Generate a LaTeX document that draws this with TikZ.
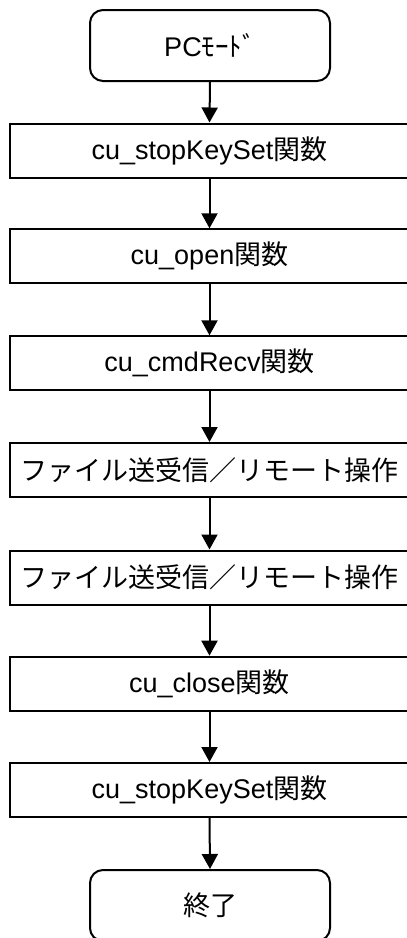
\documentclass[tikz,border=0pt]{standalone}
\usepackage{fontspec}
\setmainfont{Liberation Sans}
\newfontfamily\cjk{Noto Sans CJK JP}
\usetikzlibrary{arrows.meta}
\tikzset{
  procbox/.style={draw=black, line width=2pt, rectangle, minimum width=399pt, minimum height=54pt, inner sep=0pt, font=\fontsize{27}{32}\selectfont},
  termbox/.style={draw=black, line width=2pt, rectangle, rounded corners=13pt, minimum width=240pt, minimum height=71pt, inner sep=0pt, font=\fontsize{27}{32}\selectfont},
  flow/.style={line width=2pt, -{Triangle[width=16pt,length=15pt]}}
}
\begin{document}
\begin{tikzpicture}[x=1pt,y=-1pt]
\clip (0,0) rectangle (407,938);
\fill[white] (0,0) rectangle (407,938);
\node[termbox] (start) at (210,45.5) {PC{\cjk ﾓｰﾄﾞ}};
\node[procbox] (b1) at (209.5,150.5) {cu\_stopKeySet{\cjk 関数}};
\node[procbox] (b2) at (209.5,256.3) {cu\_open{\cjk 関数}};
\node[procbox] (b3) at (209.5,363.3) {cu\_cmdRecv{\cjk 関数}};
\node[procbox] (b4) at (209.5,470) {\cjk ファイル送受信／リモート操作};
\node[procbox] (b5) at (209.5,577.5) {\cjk ファイル送受信／リモート操作};
\node[procbox] (b6) at (209.5,683.7) {cu\_close{\cjk 関数}};
\node[procbox] (b7) at (209.5,790) {cu\_stopKeySet{\cjk 関数}};
\node[termbox] (end) at (210,905.5) {\cjk 終了};
\draw[flow] (start.south) -- (b1.north);
\draw[flow] (b1) -- (b2);
\draw[flow] (b2) -- (b3);
\draw[flow] (b3) -- (b4);
\draw[flow] (b4) -- (b5);
\draw[flow] (b5) -- (b6);
\draw[flow] (b6) -- (b7);
\draw[flow] (b7.south) -- (end.north);
\end{tikzpicture}
\end{document}
